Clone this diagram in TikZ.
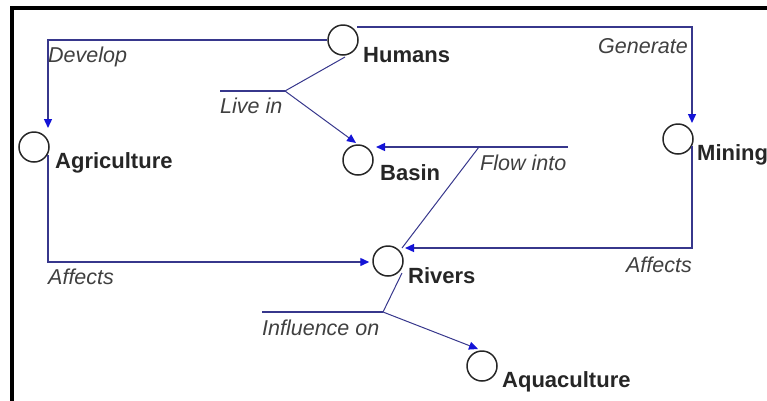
\documentclass[tikz,border=0pt]{standalone}
\usepackage{fontspec}
\setmainfont{Liberation Sans}
\usetikzlibrary{arrows.meta,calc}
\definecolor{linkc}{RGB}{55,55,140}
\definecolor{tipc}{RGB}{20,20,215}
\begin{document}
\begin{tikzpicture}[x=1pt,y=-1pt,
  circ/.style={circle,draw=black!85,line width=1.5pt,minimum size=30pt,inner sep=0pt},
  nodename/.style={anchor=base west,inner sep=0pt,font=\fontsize{22}{25}\selectfont\bfseries,text=black!85},
  lab/.style={inner sep=0pt,font=\fontsize{21.5}{25}\selectfont\itshape,text=black!75},
  link/.style={draw=linkc,line width=1.4pt},
  diag/.style={draw=linkc,line width=1pt},
  tip/.style={-{Triangle[length=9pt,width=8pt,color=tipc,fill=tipc]}}]
\useasboundingbox (0,0) rectangle (767,400);
\clip (0,0) rectangle (767,400);
% frame
\draw[line width=4pt] (12,405) -- (12,8) -- (775,8);
% concept circles
\node[circ] (hum) at (343,40) {};
\node[circ] (agr) at (34,147) {};
\node[circ] (bas) at (358,160) {};
\node[circ] (min) at (678,139) {};
\node[circ] (riv) at (388,261) {};
\node[circ] (aqu) at (482,366) {};
% concept names
\node[nodename] (humt) at ($(hum)+(20,22)$) {Humans};
\node[nodename] (agrt) at ($(agr)+(21,21)$) {Agriculture};
\node[nodename] (bast) at ($(bas)+(22,20)$) {Basin};
\node[nodename] (mint) at ($(min)+(19,21)$) {Mining};
\node[nodename] (rivt) at ($(riv)+(20,22)$) {Rivers};
\node[nodename] (aqut) at ($(aqu)+(20,21)$) {Aquaculture};
% Develop
\draw[link,tip] (hum.west) -| ($(agr)+(14,-19)$);
\node[lab,anchor=base west] (ldev) at (48,62) {Develop};
% Affects (Agriculture -> Rivers)
\draw[link,tip] ($(agr)+(14,8)$) |- ($(riv.west)+(-3,1)$);
\node[lab,anchor=base west] (laff1) at (48,284) {Affects};
% Generate
\draw[link,tip] ($(hum)+(14,-13)$) -| ($(min)+(14,-16)$);
\node[lab,anchor=base east] (lgen) at (688,53) {Generate};
% Affects (Mining -> Rivers)
\draw[link,tip] ($(min)+(14,7)$) |- ($(riv)+(17,-13)$);
\node[lab,anchor=base east] (laff2) at (692,272) {Affects};
% Live in
\coordinate (lj) at (285,91);
\draw[diag] ($(hum)+(2,17)$) -- (lj);
\draw[link] (lj) -- ++(-65,0);
\draw[diag,tip] (lj) -- ($(bas)+(-2,-17)$);
\node[lab,anchor=base west] (lliv) at (220,113) {Live in};
% Flow into
\coordinate (fj) at (479,147);
\draw[diag] ($(riv)+(14,-13)$) -- (fj);
\draw[link] ($(fj)+(89,0)$) -- (fj);
\draw[link,tip] (fj) -- ($(bas)+(18,-13)$);
\node[lab,anchor=base west] (lflo) at (480,170) {Flow into};
% Influence on
\coordinate (ij) at (383,312);
\draw[diag] ($(riv)+(14,12)$) -- (ij);
\draw[link] (ij) -- ++(-121,0);
\draw[diag,tip] (ij) -- ($(aqu)+(-4,-17)$);
\node[lab,anchor=base west] (linf) at (262,335) {Influence on};
\end{tikzpicture}
\end{document}
